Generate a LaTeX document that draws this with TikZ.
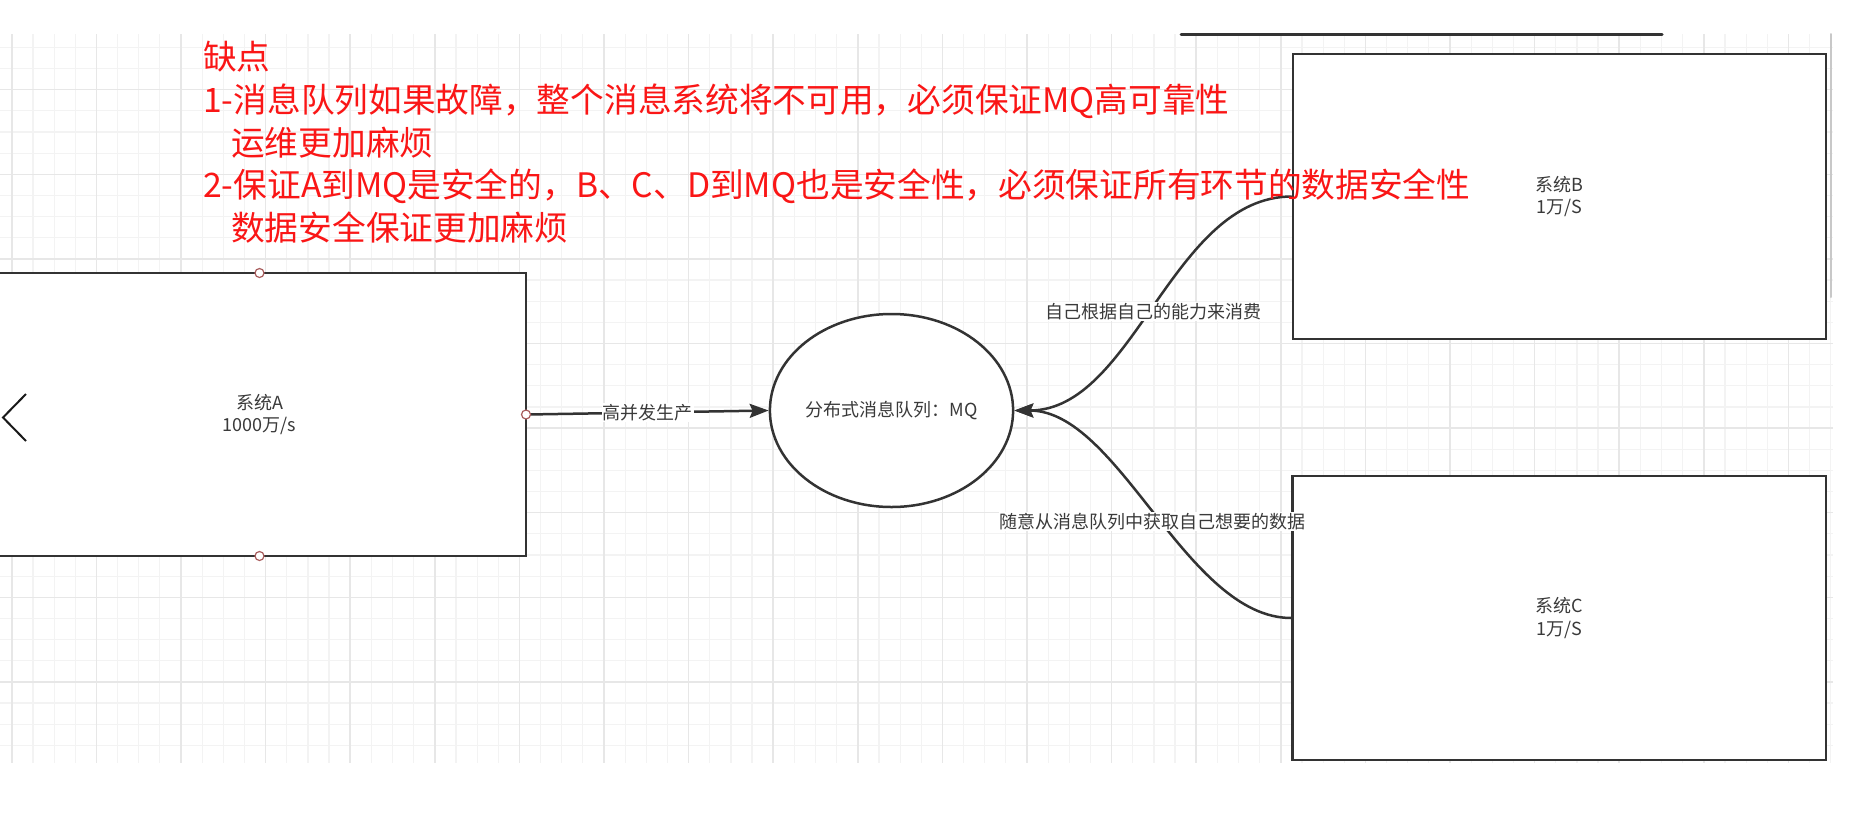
\documentclass[tikz,border=0pt]{standalone}
\usepackage{fontspec}
\setmainfont{Noto Sans CJK SC}
\usetikzlibrary{shapes.geometric,arrows.meta}

\definecolor{ink}{HTML}{333333}
\definecolor{labelink}{HTML}{3A3A3A}
\definecolor{warn}{HTML}{FA1616}
\definecolor{gridminor}{HTML}{F3F3F3}
\definecolor{gridmajor}{HTML}{E7E7E7}
\definecolor{portring}{HTML}{A85C5C}
\definecolor{scrollgray}{HTML}{C8C8C8}

\begin{document}
\begin{tikzpicture}[x=1pt,y=-1pt,
  sysbox/.style={draw=ink,line width=2.5pt,fill=white,rectangle,inner sep=0pt,
    font=\fontsize{18}{22.5}\selectfont,text=labelink,align=center},
  queue/.style={draw=ink,line width=2.5pt,fill=white,ellipse,inner sep=0pt,
    minimum width=235pt,minimum height=193pt,
    font=\fontsize{18}{22.5}\selectfont,text=labelink},
  flow/.style={draw=ink,line width=2.5pt,-{Stealth[length=19pt,width=14pt,inset=3pt]}},
  flowlabel/.style={fill=white,inner sep=1pt,font=\fontsize{18}{22}\selectfont,text=labelink},
  warntext/.style={anchor=base west,inner sep=0pt,text=warn,font=\fontsize{33.7}{40}\selectfont},
  portdot/.style={circle,draw=portring,fill=white,line width=1.2pt,minimum size=9pt,inner sep=0pt},
  minorline/.style={draw=gridminor,line width=1.2pt},
  majorline/.style={draw=gridmajor,line width=1.5pt}]

% canvas
\useasboundingbox[fill=white] (0,0) rectangle (1851,817);

% background grid
\begin{scope}
  \clip (0,34) rectangle (1833,763);
  \foreach \k in {0,...,86} \draw[minorline] ({11.8+21.15*\k},34) -- ({11.8+21.15*\k},763);
  \foreach \k in {0,...,34} \draw[minorline] (0,{47.4+21.15*\k}) -- (1833,{47.4+21.15*\k});
  \foreach \k in {0,...,21} \draw[majorline] ({11.8+84.6*\k},34) -- ({11.8+84.6*\k},763);
  \foreach \k in {0,...,7} \draw[majorline] (0,{89.7+84.6*\k}) -- (1833,{89.7+84.6*\k});
\end{scope}

% edge of a shape above the visible area, and the scroll bar
\coordinate (topL) at (1181,34.3);
\coordinate (topR) at (1662,34.3);
\draw[ink,line width=3pt,line cap=round] (topL) -- (topR);
\coordinate (scrollT) at (1830.5,34);
\coordinate (scrollB) at (1830.5,297);
\draw[scrollgray,line width=2pt,line cap=round] (scrollT) -- (scrollB);

% systems and the queue
\node[sysbox,minimum width=533pt,minimum height=283pt] (A) at (259.5,414.5) {系统A\\1000万/s};
\node[sysbox,minimum width=533pt,minimum height=285pt] (B) at (1559.5,196.5) {系统B\\1万/S};
\node[sysbox,minimum width=533.5pt,minimum height=284pt] (C) at (1559.25,618) {系统C\\1万/S};
\node[queue] (mq) at (891.5,410.5) {分布式消息队列：MQ};

% flows
\draw[flow] (A.east) -- node[flowlabel] (lp) {高并发生产} (mq.west);
\draw[flow] (B.west) .. controls +(-120,0) and +(120,0) .. (mq.east)
  node[flowlabel,pos=0.5,yshift=-8pt] (lb) {自己根据自己的能力来消费};
\draw[flow] (C.west) .. controls +(-105,0) and +(105,0) .. (mq.east)
  node[flowlabel,pos=0.5,yshift=-7pt] (lc) {随意从消息队列中获取自己想要的数据};

% connection points of system A
\node[portdot] (pTop) at (259.5,273) {};
\node[portdot] (pBot) at (259.5,556) {};
\node[portdot] (pRight) at (526,414.5) {};

% back chevron
\coordinate (chevT) at (26,394);
\coordinate (chevM) at (3,417.5);
\coordinate (chevB) at (26,441);
\draw[black!90,line width=2pt] (chevT) -- (chevM) -- (chevB);

% notes
\node[warntext] (n0) at (203,69.2) {缺点};
\node[warntext] (n1) at (203,112.2) {1-消息队列如果故障，整个消息系统将不可用，必须保证MQ高可靠性};
\node[warntext] (n2) at (231,155.2) {运维更加麻烦};
\node[warntext] (n3) at (203,197.2) {2-保证A到MQ是安全的，B、C、D到MQ也是安全性，必须保证所有环节的数据安全性};
\node[warntext] (n4) at (231,240.2) {数据安全保证更加麻烦};

\end{tikzpicture}
\end{document}
